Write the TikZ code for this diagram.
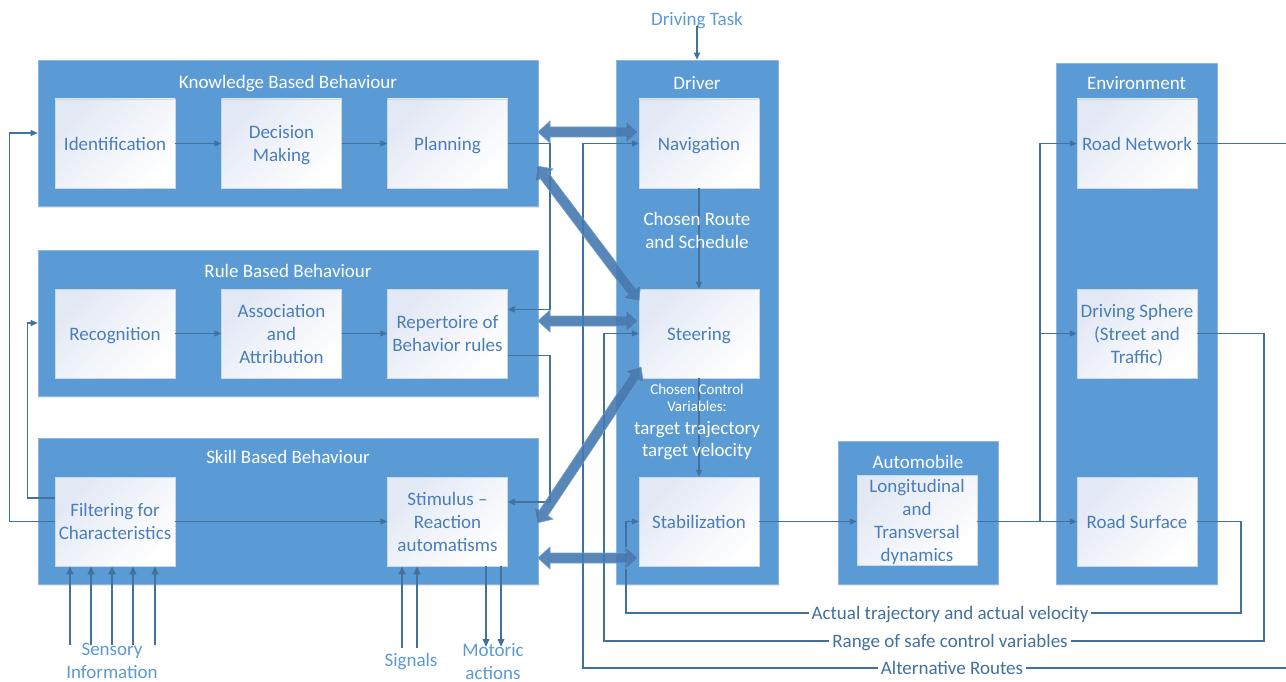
\documentclass[tikz,border=0pt]{standalone}
\usepackage{fontspec}
\setmainfont{Carlito}
\usetikzlibrary{calc,arrows.meta,shadows}
\definecolor{blk}{HTML}{5B9BD5}
\definecolor{blkedge}{HTML}{8DB6E0}
\definecolor{ln}{HTML}{41719C}
\definecolor{itxt}{HTML}{4A7EBB}
\definecolor{otxt}{HTML}{5B9BD5}
\definecolor{btxt}{HTML}{41719C}
\definecolor{fatf}{HTML}{4679B0}
\definecolor{fatd}{HTML}{6E9FD0}
\definecolor{boxtop}{HTML}{E2E8F4}
\definecolor{boxedge}{HTML}{C8D7EA}
\newcommand\fatarrow[2]{%
  \coordinate (fa1) at ($(#1)!12pt!(#2)$);
  \coordinate (fb1) at ($(#2)!12pt!(#1)$);
  \draw[fat] (#1) -- ($(fa1)!11pt!90:(#2)$) -- ($(fa1)!5pt!90:(#2)$)
    -- ($(fb1)!5pt!90:(#2)$) -- ($(fb1)!11pt!90:(#2)$) -- (#2)
    -- ($(fb1)!11pt!-90:(#2)$) -- ($(fb1)!5pt!-90:(#2)$)
    -- ($(fa1)!5pt!-90:(#2)$) -- ($(fa1)!11pt!-90:(#2)$) -- cycle;}
\begin{document}
\begin{tikzpicture}[x=1pt,y=-1pt,
  font=\fontsize{19}{23}\selectfont,
  every node/.append style={text depth=0pt},
  block/.style={fill=blk, draw=blkedge, line width=0.6pt, inner sep=0pt,
    drop shadow={opacity=0.18, shadow xshift=1pt, shadow yshift=-2pt}},
  ttl/.style={text=white, inner sep=0pt},
  ibox/.style={minimum width=120pt, minimum height=89pt, inner sep=1pt, align=center,
    text=itxt, top color=boxtop, bottom color=white, shading angle=45,
    draw=boxedge, line width=0.5pt},
  conn/.style={draw=ln, line width=1.3pt, -{Triangle[length=7pt,width=6pt]}},
  plain/.style={draw=ln, line width=1.3pt},
  thick/.style={draw=ln, line width=2.2pt, -{Triangle[length=8pt,width=6.5pt]}},
  fat/.style={fill=fatf, fill opacity=0.9, draw=fatd, line width=0.6pt},
  olbl/.style={text=otxt, align=center, inner sep=0pt},
  blbl/.style={text=btxt, fill=white, inner sep=3pt},
]
\useasboundingbox (0,0) rectangle (1286,682);
\fill[white] (0,0) rectangle (1286,682);

% blocks
\node[block, minimum width=500pt, minimum height=146pt] (know) at (288,133) {};
\node[block, minimum width=500pt, minimum height=146pt] (rule) at (288,323) {};
\node[block, minimum width=500pt, minimum height=146pt] (skill) at (288,511) {};
\node[block, minimum width=162pt, minimum height=524pt] (driver) at (697,322) {};
\node[block, minimum width=160pt, minimum height=143pt] (auto) at (918,512.5) {};
\node[block, minimum width=161pt, minimum height=521pt] (env) at (1136.5,323.5) {};

% titles
\node[ttl] (knowT) at (288,82) {Knowledge Based Behaviour};
\node[ttl] (ruleT) at (288,271) {Rule Based Behaviour};
\node[ttl] (skillT) at (288,457) {Skill Based Behaviour};
\node[ttl] (driverT) at (697,83) {Driver};
\node[ttl] (autoT) at (918,462) {Automobile};
\node[ttl] (envT) at (1136.5,83) {Environment};

% inner boxes
\node[ibox] (ident) at (115,143.5) {Identification};
\node[ibox] (dec) at (281.5,143.5) {Decision\\Making};
\node[ibox] (plan) at (447.5,143.5) {Planning};
\node[ibox] (recog) at (115,333.5) {Recognition};
\node[ibox] (assoc) at (281.5,333.5) {Association\\and\\Attribution};
\node[ibox] (rep) at (447.5,333.5) {Repertoire of\\Behavior rules};
\node[ibox] (filter) at (115,521.5) {Filtering for\\Characteristics};
\node[ibox] (stim) at (447.5,521.5) {Stimulus --\\Reaction\\automatisms};
\node[ibox] (nav) at (699,143.5) {Navigation};
\node[ibox] (steer) at (699,333.5) {Steering};
\node[ibox] (stab) at (699,521.5) {Stabilization};
\node[ibox, minimum height=90pt] (long) at (917,520.5) {Longitudinal\\and\\Transversal\\dynamics};
\node[ibox] (rn) at (1137,143.5) {Road Network};
\node[ibox] (ds) at (1137,333.5) {Driving Sphere\\(Street and\\Traffic)};
\node[ibox] (rs) at (1137,521.5) {Road Surface};

% arrows inside driver
\draw[conn] (nav.south) -- (steer.north);
\draw[conn] (steer.south) -- (stab.north);
\node[text=white, align=center, inner sep=0pt] (route) at (697,230.5) {Chosen Route\\and Schedule};
\node[text=white, align=center, inner sep=0pt, font=\fontsize{15}{17}\selectfont] (ccv) at (697,397.5) {Chosen Control\\Variables:};
\node[text=white, align=center, inner sep=0pt, font=\fontsize{19}{21.5}\selectfont] (tgt) at (697,439) {target trajectory\\target velocity};

% driving task
\node[olbl] (task) at (697,19) {Driving Task};
\draw[conn] (task.south) -- (task.south |- driver.north);

% left behaviour chains
\draw[conn] (ident) -- (dec);
\draw[conn] (dec) -- (plan);
\draw[conn] (recog) -- (assoc);
\draw[conn] (assoc) -- (rep);
\draw[conn] (filter) -- (stim);

% feedback from filtering
\draw[conn] (filter.west) -- ++(-45,0) |- (know.west);
\draw[conn] ($(filter.west)+(0,-23.5)$) -- ++(-27,0) |- (rule.west);

% planning -> repertoire, repertoire -> stimulus
\coordinate (pj) at (550,309.5);
\draw[plain] (plan.east) -| (pj);
\draw[conn] (pj) -- (pj -| rep.east);
\coordinate (rj) at (550,502);
\draw[plain] ($(rep.east)+(0,22)$) -| (rj);
\draw[conn] (rj) -- (rj -| stim.east);

% automobile and environment
\draw[conn] (stab.east) -- (stab.east -| long.west);
\coordinate (br) at (1040,521.5);
\draw[plain] (long.east |- br) -- (br);
\draw[conn] (br) -- (rs.west);
\draw[conn] (br) |- (ds.west);
\draw[conn] (br) |- (rn.west);

% feedback loops
\coordinate (E) at (1286,0);
\draw[plain] (rn.east) -- (rn.east -| E);
\coordinate (altE) at (1286,668);
\coordinate (altC) at (583,668);
\draw[conn] (altE) -- (altC) |- (nav.west);
\coordinate (rngR) at (1264,641);
\coordinate (rngL) at (604,641);
\draw[conn] (ds.east) -| (rngR) -- (rngL) |- (steer.west);
\coordinate (actR) at (1241,613);
\coordinate (actL) at (626,613);
\draw[conn] (rs.east) -| (actR) -- (actL) |- (stab.west);
\node[blbl] (altlbl) at (952,668) {Alternative Routes};
\node[blbl] (rnglbl) at (950,641) {Range of safe control variables};
\node[blbl] (actlbl) at (950,613) {Actual trajectory and actual velocity};

% sensory, signals, motoric
\foreach \x in {70,91,112,133,155} {
  \coordinate (s\x) at (\x,645);
  \draw[thick] (s\x) -- (s\x |- filter.south);
}
\node[olbl] (sens) at (112,661) {Sensory\\Information};
\foreach \x in {402,417} {
  \coordinate (g\x) at (\x,648);
  \draw[thick] (g\x) -- (g\x |- stim.south);
}
\node[olbl] (sig) at (411,660) {Signals};
\foreach \x in {486,501} {
  \coordinate (m\x) at (\x,647);
  \draw[thick] (m\x |- stim.south) -- (m\x);
}
\node[olbl] (mot) at (493,661) {Motoric\\actions};

% fat double arrows
\coordinate (f1a) at (538,132); \coordinate (f1b) at (638,132);
\coordinate (f2a) at (537,166); \coordinate (f2b) at (639,301);
\coordinate (f3a) at (538,321); \coordinate (f3b) at (638,321);
\coordinate (f4a) at (641,367); \coordinate (f4b) at (537,523);
\coordinate (f5a) at (538,558); \coordinate (f5b) at (638,558);
\fatarrow{f1a}{f1b}
\fatarrow{f2a}{f2b}
\fatarrow{f3a}{f3b}
\fatarrow{f4a}{f4b}
\fatarrow{f5a}{f5b}
\end{tikzpicture}
\end{document}
